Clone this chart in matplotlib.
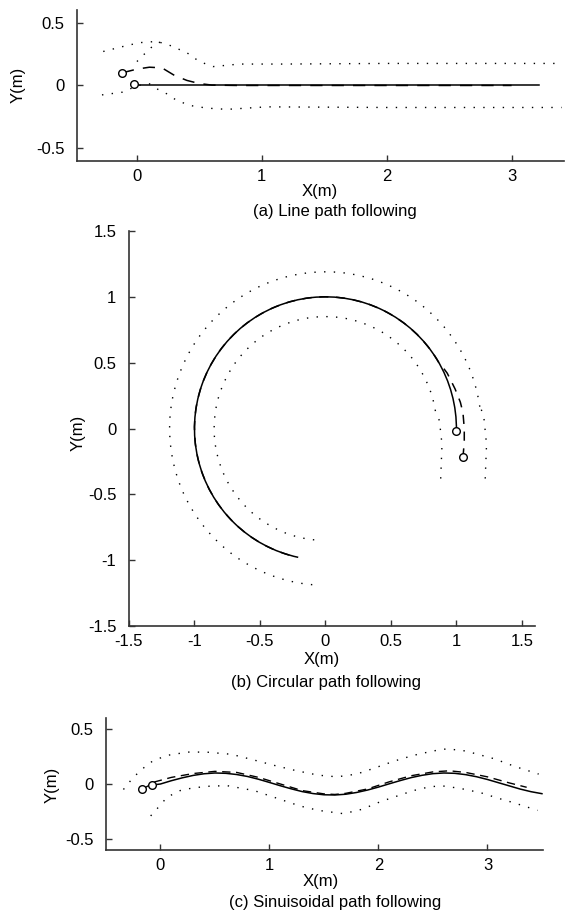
import matplotlib
matplotlib.use("Agg")
import matplotlib.pyplot as plt
from matplotlib.patches import Arc

plt.rcParams['font.family'] = ['Liberation Sans', 'DejaVu Sans']
plt.rcParams['font.size'] = 12
plt.rcParams['axes.unicode_minus'] = False

# ---- (a) line path ----
a_ref_x = [-0.02, 3.22]
a_ref_y = [0.0, 0.0]
a_rob_x = [-0.12, 0.0, 0.1, 0.2, 0.3, 0.4, 0.5, 0.6, 0.8, 1.0, 2.0, 3.0]
a_rob_y = [0.10, 0.13, 0.145, 0.14, 0.08, 0.04, 0.015, 0.003, 0.0, 0.0, 0.0, 0.0]
a_up_x = [-0.27, -0.11, 0.02, 0.16, 0.26, 0.40, 0.50, 0.61, 0.82, 1.17, 2.0, 3.0, 3.4]
a_up_y = [0.27, 0.31, 0.34, 0.35, 0.32, 0.26, 0.19, 0.15, 0.17, 0.17, 0.175, 0.175, 0.175]
a_up2_x = [0.0, 0.05, 0.1, 0.15, 0.2]
a_up2_y = [0.19, 0.24, 0.29, 0.33, 0.35]
a_lo_x = [-0.28, -0.12, 0.01, 0.10, 0.16, 0.24, 0.32, 0.43, 0.56, 0.72, 1.04, 2.0, 3.0, 3.4]
a_lo_y = [-0.075, -0.054, 0.0, 0.013, -0.027, -0.067, -0.12, -0.16, -0.18, -0.19, -0.17,
          -0.175, -0.175, -0.175]
a_start_x = [-0.12, -0.02]
a_start_y = [0.10, 0.01]
a_ticks_x = [0, 1, 2, 3]
a_ticks_y = [-0.5, 0, 0.5]

# ---- (b) circular path: arcs (radius, start deg, end deg) plus lead-in segments ----
b_ref_arc = (1.0, -1, 258)
b_rob_x = [1.05, 1.06, 1.06, 1.05, 1.03, 0.99, 0.93, 0.87]
b_rob_y = [-0.22, -0.10, 0.0, 0.12, 0.20, 0.30, 0.42, 0.50]
b_rob_arc = (1.0, 30, 255)
b_out_x = [1.22, 1.23, 1.21, 1.185]
b_out_y = [-0.38, -0.12, 0.08, 0.16]
b_out_arc = (1.19, 8, 267)
b_in_x = [0.88, 0.89, 0.87, 0.84]
b_in_y = [-0.38, -0.12, 0.06, 0.13]
b_in_arc = (0.85, 9, 267)
b_start_x = [1.00, 1.05]
b_start_y = [-0.02, -0.22]
b_ticks = [-1.5, -1, -0.5, 0, 0.5, 1, 1.5]
b_labels = ['-1.5', '-1', '-0.5', '0', '0.5', '1', '1.5']

# ---- (c) sinusoidal path ----
c_ref_x = [-0.08, 0.0, 0.1, 0.2, 0.3, 0.4, 0.5, 0.6, 0.7, 0.8, 0.9, 1.0, 1.1, 1.2, 1.3,
           1.4, 1.5, 1.6, 1.7, 1.8, 1.9, 2.0, 2.1, 2.2, 2.3, 2.4, 2.5, 2.6, 2.7, 2.8,
           2.9, 3.0, 3.1, 3.2, 3.3, 3.4, 3.5]
c_ref_y = [-0.01, 0.0, 0.030, 0.056, 0.078, 0.093, 0.100, 0.097, 0.086, 0.068, 0.043,
           0.014, -0.016, -0.044, -0.069, -0.087, -0.098, -0.100, -0.093, -0.077,
           -0.055, -0.028, 0.002, 0.031, 0.058, 0.079, 0.094, 0.100, 0.097, 0.085,
           0.066, 0.041, 0.012, -0.017, -0.046, -0.070, -0.088]
c_rob_x = [-0.17, -0.05, 0.1, 0.3, 0.5, 0.7, 0.9, 1.1, 1.3, 1.5, 1.6, 1.7, 1.9, 2.1,
           2.3, 2.5, 2.65, 2.8, 3.0, 3.2, 3.36]
c_rob_y = [-0.05, 0.02, 0.06, 0.095, 0.115, 0.105, 0.06, 0.0, -0.06, -0.09, -0.095,
           -0.085, -0.045, 0.02, 0.075, 0.11, 0.12, 0.105, 0.065, 0.01, -0.03]
c_up_x = [-0.34, -0.25, -0.15, -0.07, 0.06, 0.25, 0.42, 0.65, 0.85, 1.04, 1.25, 1.45,
          1.62, 1.8, 1.95, 2.15, 2.32, 2.5, 2.63, 2.8, 3.06, 3.25, 3.47]
c_up_y = [-0.05, 0.06, 0.15, 0.21, 0.26, 0.29, 0.29, 0.27, 0.22, 0.17, 0.12, 0.08,
          0.065, 0.09, 0.14, 0.21, 0.26, 0.30, 0.32, 0.30, 0.23, 0.16, 0.09]
c_lo_x = [-0.09, 0.0, 0.06, 0.18, 0.3, 0.45, 0.61, 0.86, 1.13, 1.28, 1.45, 1.68, 1.85,
          2.02, 2.2, 2.32, 2.45, 2.57, 2.75, 2.94, 3.1, 3.24, 3.46]
c_lo_y = [-0.29, -0.19, -0.12, -0.06, -0.035, -0.02, -0.015, -0.06, -0.15, -0.20, -0.24,
          -0.27, -0.23, -0.16, -0.10, -0.06, -0.03, -0.015, -0.04, -0.08, -0.13, -0.17,
          -0.24]
c_start_x = [-0.17, -0.08]
c_start_y = [-0.05, -0.01]
c_ticks_x = [0, 1, 2, 3]
c_ticks_y = [-0.5, 0, 0.5]

DOT = (0, (1, 6))
FS = 12


def style(ax):
    for s in ['top', 'right']:
        ax.spines[s].set_visible(False)
    for s in ['left', 'bottom']:
        ax.spines[s].set_linewidth(1.2)
        ax.spines[s].set_color('#333333')
    ax.tick_params(direction='in', length=4, width=1, labelsize=FS, color='#333333')
    ax.tick_params(axis='y', pad=9)
    ax.tick_params(axis='x', pad=6)


def arc(ax, spec, **kw):
    r, t1, t2 = spec
    ax.add_patch(Arc((0, 0), 2 * r, 2 * r, theta1=t1, theta2=t2, color='black', **kw))


fig = plt.figure(figsize=(5.65, 9.13), dpi=100)

# (a)
ax = fig.add_axes([0.1363, 0.8237, 0.862, 0.1654])
ax.plot(a_ref_x, a_ref_y, color='black', lw=1.1)
ax.plot(a_rob_x, a_rob_y, color='black', lw=1.1, linestyle=(0, (8, 6)))
for xs, ys in [(a_up_x, a_up_y), (a_up2_x, a_up2_y), (a_lo_x, a_lo_y)]:
    ax.plot(xs, ys, color='black', lw=1.0, linestyle=DOT)
ax.plot(a_start_x, a_start_y, 'o', mfc='white', mec='black', ms=5.5, mew=1.0)
ax.set_xlim(-0.48, 3.42)
ax.set_ylim(-0.6, 0.6)
ax.set_xticks(a_ticks_x)
ax.set_yticks(a_ticks_y)
ax.set_yticklabels(['-0.5', '0', '0.5'])
style(ax)
fig.text(0.032, 0.907, 'Y(m)', rotation=90, ha='center', va='center', fontsize=FS)
fig.text(0.566, 0.790, 'X(m)', ha='center', va='center', fontsize=FS)
fig.text(0.593, 0.768, '(a) Line path following', ha='center', va='center', fontsize=FS)

# (b)
ax = fig.add_axes([0.2283, 0.3143, 0.7186, 0.4327])
arc(ax, b_ref_arc, lw=1.1)
ax.plot(b_rob_x, b_rob_y, color='black', lw=1.1, linestyle=(0, (6, 5)))
arc(ax, b_rob_arc, lw=1.1, linestyle=(0, (6, 5)))
for xs, ys, spec in [(b_out_x, b_out_y, b_out_arc), (b_in_x, b_in_y, b_in_arc)]:
    ax.plot(xs, ys, color='black', lw=1.0, linestyle=DOT)
    arc(ax, spec, lw=1.0, linestyle=DOT)
ax.plot(b_start_x, b_start_y, 'o', mfc='white', mec='black', ms=5.5, mew=1.0)
ax.set_xlim(-1.5, 1.6)
ax.set_ylim(-1.5, 1.5)
ax.set_xticks(b_ticks)
ax.set_yticks(b_ticks)
ax.set_xticklabels(b_labels)
ax.set_yticklabels(b_labels)
style(ax)
fig.text(0.138, 0.526, 'Y(m)', rotation=90, ha='center', va='center', fontsize=FS)
fig.text(0.570, 0.278, 'X(m)', ha='center', va='center', fontsize=FS)
fig.text(0.577, 0.253, '(b) Circular path following', ha='center', va='center', fontsize=FS)

# (c)
ax = fig.add_axes([0.1876, 0.069, 0.7735, 0.1446])
ax.plot(c_ref_x, c_ref_y, color='black', lw=1.1)
ax.plot(c_rob_x, c_rob_y, color='black', lw=1.0, linestyle=(0, (6, 4)))
for xs, ys in [(c_up_x, c_up_y), (c_lo_x, c_lo_y)]:
    ax.plot(xs, ys, color='black', lw=1.0, linestyle=DOT)
ax.plot(c_start_x, c_start_y, 'o', mfc='white', mec='black', ms=5.5, mew=1.0)
ax.set_xlim(-0.5, 3.51)
ax.set_ylim(-0.6, 0.6)
ax.set_xticks(c_ticks_x)
ax.set_yticks(c_ticks_y)
ax.set_yticklabels(['-0.5', '0', '0.5'])
style(ax)
fig.text(0.092, 0.140, 'Y(m)', rotation=90, ha='center', va='center', fontsize=FS)
fig.text(0.568, 0.034, 'X(m)', ha='center', va='center', fontsize=FS)
fig.text(0.593, 0.012, '(c) Sinuisoidal path following', ha='center', va='center',
         fontsize=FS)

fig.savefig('out.png', dpi=100)
